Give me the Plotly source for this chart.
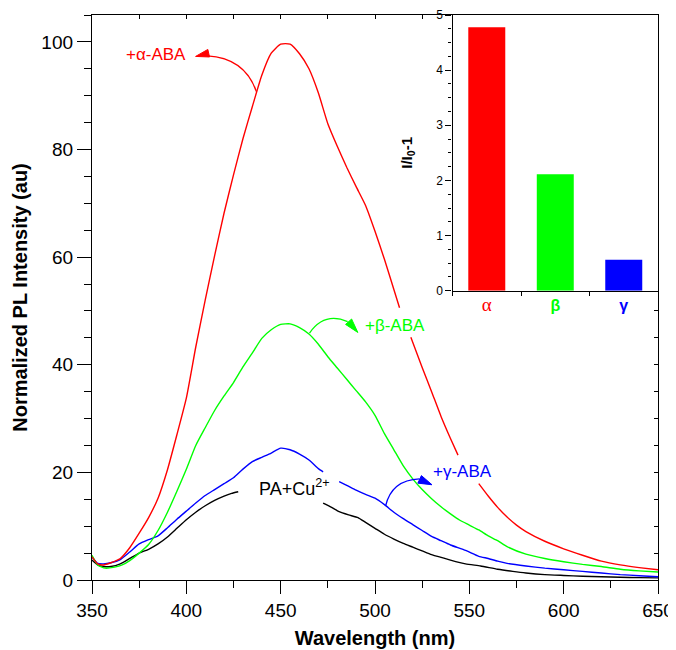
import plotly.graph_objects as go

# ---------------- data ----------------
alpha_x = [350, 353, 356, 360, 365, 370, 375, 380, 385, 390, 395, 400, 405, 410, 415, 420, 425, 430, 435, 440,
           445, 450, 455, 460, 465, 470, 475, 480, 485, 490, 495, 500, 505, 510, 513, 516,
           519, 525, 530, 535, 540, 544, 550, 555, 560, 565, 570, 575, 580, 590, 600, 610, 620, 630, 640, 650]
alpha_y = [4.3, 3.0, 2.8, 3.2, 4.0, 6.0, 8.7, 11.6, 15.2, 20.5, 27.0, 33.8, 43.3, 52.0, 60.3, 68.2, 75.3, 82.0, 88.0, 93.8,
           97.9, 99.6, 99.6, 97.8, 95.0, 90.5, 84.8, 80.6, 76.7, 73.1, 69.6, 64.8, 59.6, 54.0, 50.6, None,
           45.1, 39.5, 35.0, 30.4, 26.3, 23.2, None, 17.9, 15.6, 13.5, 11.7, 10.2, 9.0, 7.2, 5.8, 4.6, 3.5, 2.8, 2.3, 1.9]

beta_x = [350, 353, 357, 362, 366, 370, 375, 380, 385, 390, 395, 400, 405, 410, 415, 420, 425, 430, 435, 440,
          445, 450, 455, 460, 465, 470, 475, 480, 485, 490, 495, 500, 505, 510, 515, 520, 525, 530, 535, 540,
          545, 550, 555, 560, 565, 570, 580, 590, 600, 610, 620, 630, 640, 650]
beta_y = [4.6, 2.8, 2.2, 2.4, 2.8, 3.6, 5.0, 6.6, 9.2, 12.6, 16.5, 20.6, 25.0, 28.3, 31.5, 34.2, 36.7, 39.6, 42.2, 44.9,
          46.5, 47.5, 47.6, 46.9, 45.7, 43.8, 41.5, 39.4, 37.3, 35.2, 33.1, 30.6, 27.2, 24.2, 21.2, 18.8, 16.8, 15.1, 13.6, 12.3,
          11.1, 10.2, 9.3, 8.2, 7.3, 6.2, 4.8, 4.0, 3.4, 2.9, 2.5, 2.0, 1.7, 1.5]

gamma_x = [350, 353, 356, 360, 365, 370, 375, 380, 385, 390, 395, 400, 405, 410, 415, 420, 425, 430, 435, 440,
           445, 450, 455, 460, 465, 470, 472.5, 477, 481, 485, 490, 495, 500, 505, 510, 515, 520, 525, 530,
           535, 540, 548, 555, 560, 565, 570, 580, 590, 600, 610, 620, 630, 640, 650]
gamma_y = [4.3, 3.1, 3.0, 3.2, 3.8, 5.2, 6.7, 7.5, 8.2, 9.7, 11.3, 12.8, 14.3, 15.7, 16.8, 17.9, 19.0, 20.6, 22.0, 22.8,
           23.6, 24.5, 24.2, 23.4, 22.3, 20.7, 20.1, None, 18.3, 17.6, 16.7, 15.9, 15.2, 14.0, 12.6, 11.4, 10.3, 9.2, 8.1,
           7.3, 6.5, 5.5, 4.4, 4.0, 3.5, 3.1, 2.6, 2.2, 1.9, 1.6, 1.3, 1.0, 0.8, 0.6]

blank_x = [350, 353, 356, 360, 365, 370, 375, 380, 385, 390, 395, 400, 405, 410, 415, 420, 424, 427.5, 450,
           472.5, 477, 481, 486, 491, 495, 500, 505, 510, 515, 520, 525, 530, 540, 548, 556, 565, 573, 580, 590, 600,
           610, 620, 630, 640, 650]
blank_y = [3.7, 2.8, 2.5, 2.5, 3.0, 4.0, 5.0, 5.7, 6.7, 8.0, 9.6, 11.2, 12.6, 13.8, 14.8, 15.6, 16.1, 16.4, None,
           14.3, 13.5, 12.7, 12.1, 11.6, 10.7, 9.6, 8.5, 7.6, 6.8, 6.1, 5.4, 4.7, 3.7, 3.0, 2.6, 2.0, 1.6, 1.3, 1.0, 0.85,
           0.7, 0.6, 0.5, 0.45, 0.4]

inset_categories = ["α", "β", "γ"]
inset_values = [4.78, 2.11, 0.56]
inset_colors = ["#FF0000", "#00FF00", "#0000FF"]

FONT = "Liberation Sans, Arial, sans-serif"

fig = go.Figure()

series = [(blank_x, blank_y, "#000000"), (gamma_x, gamma_y, "#0000FF"),
          (beta_x, beta_y, "#00FF00"), (alpha_x, alpha_y, "#FF0000")]
for xs, ys, c in series:
    fig.add_trace(go.Scatter(x=xs, y=ys, mode="lines", line=dict(color=c, width=1.4, shape="spline", smoothing=0.5),
                             connectgaps=False, showlegend=False, hoverinfo="skip"))

# inset bars
fig.add_trace(go.Bar(x=list(range(len(inset_categories))), y=inset_values, marker_color=inset_colors,
                     marker_line_width=0, width=0.54, xaxis="x2", yaxis="y2", showlegend=False))

# dummy trace for mirrored axes
fig.add_trace(go.Scatter(x=[], y=[], xaxis="x3", yaxis="y3", showlegend=False))

tick_styles = ['color:#FF0000;font-family:Liberation Serif;font-size:19px', 'color:#00FF00', 'color:#0000FF']
ticktext = [f'<span style="{st}">{lab if i == 0 else "<b>" + lab + "</b>"}</span>'
            for i, (st, lab) in enumerate(zip(tick_styles, inset_categories))]

axis_common = dict(showgrid=False, zeroline=False, showline=True, linecolor="black", linewidth=1.3,
                   tickcolor="black", tickwidth=1.3, automargin=False)

# page body adds an 8px offset, so the figure is 8px smaller than the window
fig.update_layout(
    width=668, height=642,
    margin=dict(l=84, r=18, t=7, b=70),
    paper_bgcolor="white", plot_bgcolor="white",
    font=dict(family=FONT, color="black"),
    xaxis=dict(**axis_common, range=[350, 650], dtick=50, tick0=350, ticks="outside", ticklen=13,
               minor=dict(dtick=25, ticks="outside", ticklen=7, tickcolor="black", tickwidth=1.3),
               tickfont=dict(size=19),
               title=dict(text="<b>Wavelength (nm)</b>", font=dict(size=20), standoff=11)),
    yaxis=dict(**axis_common, range=[0, 105], dtick=20, tick0=0, ticks="outside", ticklen=14,
               minor=dict(dtick=5, ticks="outside", ticklen=7, tickcolor="black", tickwidth=1.3),
               tickfont=dict(size=19),
               title=dict(text="<b>Normalized PL Intensity (au)</b>", font=dict(size=20), standoff=8)),
    xaxis3=dict(**axis_common, overlaying="x", side="top", anchor="y3", range=[350, 650], dtick=25, tick0=350,
                ticks="inside", ticklen=4, showticklabels=False),
    yaxis3=dict(**axis_common, overlaying="y", side="right", anchor="x3", range=[0, 105], dtick=5, tick0=0,
                ticks="inside", ticklen=4, showticklabels=False),
    xaxis2=dict(**axis_common, domain=[0.637, 1.0], anchor="y2", range=[-0.5, 2.5],
                tickvals=[0, 1, 2], ticktext=ticktext, ticks="", tickfont=dict(size=16),
                minor=dict(tick0=0.5, dtick=1, ticks="outside", ticklen=4, tickcolor="black", tickwidth=1.3)),
    yaxis2=dict(**axis_common, domain=[0.512, 1.0], anchor="x2", range=[0, 5], dtick=1, tick0=0,
                ticks="outside", ticklen=6, tickfont=dict(size=12),
                minor=dict(dtick=0.25, ticks="outside", ticklen=3, tickcolor="black", tickwidth=1.3),
                title=dict(text="<b>I/I<sub>0</sub>-1</b>", font=dict(size=15), standoff=20)),
)

# curved arrows (decoration)
def quad(p0, c, p1):
    return f"M {p0[0]},{p0[1]} Q {c[0]},{c[1]} {p1[0]},{p1[1]}"

def tri(a, b, c):
    return f"M {a[0]},{a[1]} L {b[0]},{b[1]} L {c[0]},{c[1]} Z"

arrows = [
    ("#FF0000", ((437.1, 90.8), (430.9, 97.0), (411.2, 97.4)), ((404.9, 97.3), (411.4, 98.6), (412.3, 97.2))),
    ("#00FF00", ((465.3, 45.9), (473.3, 49.9), (485.5, 48.0)), ((490.9, 46.0), (484.4, 47.5), (487.6, 48.5))),
    ("#0000FF", ((505.6, 13.75), (508.8, 18.6), (523.6, 18.8)), ((530.2, 17.7), (524.6, 19.4), (522.7, 18.0))),
]
for col, curve, head in arrows:
    fig.add_shape(type="path", xref="x", yref="y", path=quad(*curve), line=dict(color=col, width=1.3))
    fig.add_shape(type="path", xref="x", yref="y", path=tri(*head), line=dict(color=col, width=1), fillcolor=col)

labels = [
    ("+α-ABA", 383.7, 97.6, "#FF0000", 17),
    ("+β-ABA", 510.8, 47.3, "#00FF00", 17),
    ("+γ-ABA", 546.6, 20.2, "#0000FF", 17),
    ("PA+Cu<sup>2+</sup>", 457.5, 17.2, "#000000", 18),
]
for t, x, y, c, s in labels:
    fig.add_annotation(text=t, x=x, y=y, xref="x", yref="y", showarrow=False,
                       font=dict(color=c, size=s, family=FONT))

fig.write_html("out.html")
